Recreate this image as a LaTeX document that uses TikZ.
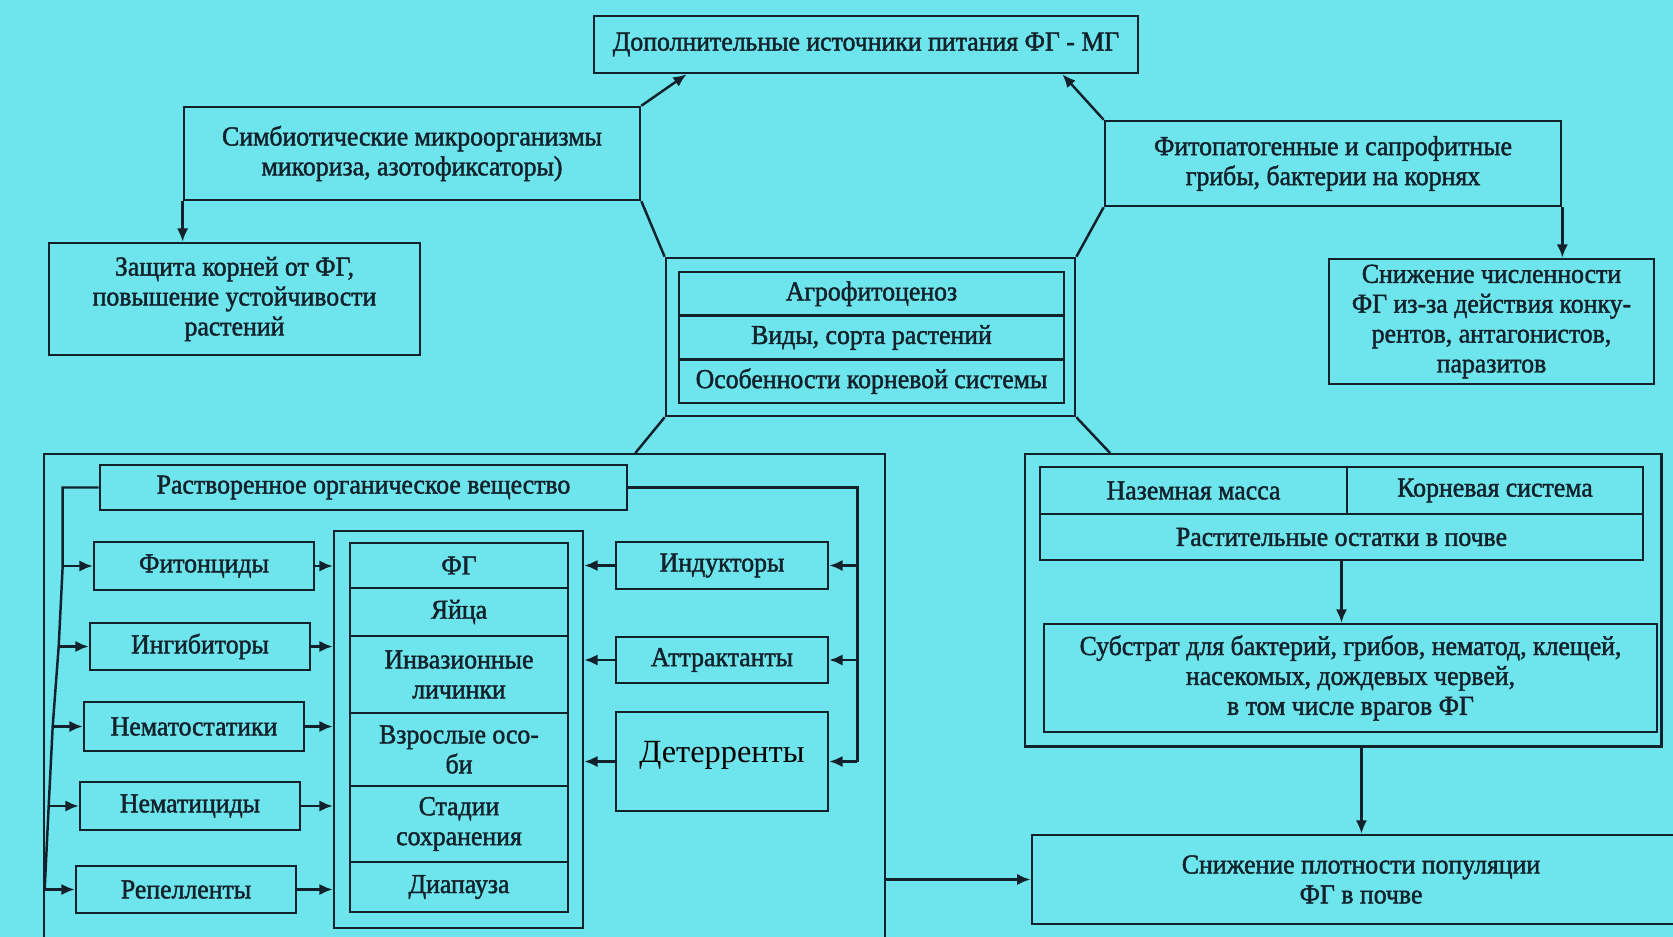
\documentclass[tikz,border=0pt]{standalone}
\usepackage{fontspec}
\setmainfont{Liberation Serif}[FakeStretch=0.94, FakeBold=1.6]
\newfontfamily\plainserif{Liberation Serif}
\usetikzlibrary{arrows.meta,calc}
\definecolor{bgcyan}{RGB}{110,229,236}
\definecolor{ink}{RGB}{18,34,44}
\tikzset{
	box/.style={draw=ink, line width=0.7pt, align=center, inner sep=1pt, text=ink,
		font=\fontsize{7.8}{8.5}\selectfont},
	link/.style={draw=ink, line width=0.7pt},
	arr/.style={link, -{Latex[length=3.8pt,width=3.2pt]}},
}
\begin{document}
\begin{tikzpicture}[x=0.01cm, y=-0.01cm]
		%%%%% START %%%%%
		\fill[bgcyan] (0,0) rectangle (1673,937);
		\useasboundingbox (0,0) rectangle (1673,937);
		
		\node[box, minimum width=5.44cm, minimum height=0.57cm] (top) at (866,44.5) {Дополнительные источники питания ФГ - МГ};
		\node[box, minimum width=4.56cm, minimum height=0.93cm] (symb) at (412,153.5) {Симбиотические микроорганизмы\\микориза, азотофиксаторы)};
		\node[box, minimum width=3.71cm, minimum height=1.12cm] (prot) at (234.5,299) {Защита корней от ФГ,\\повышение устойчивости\\растений};
		\node[box, minimum width=4.56cm, minimum height=0.85cm] (phyto) at (1333,163.5) {Фитопатогенные и сапрофитные\\грибы, бактерии на корнях};
		\node[box, minimum width=3.25cm, minimum height=1.25cm] (decr) at (1491.5,321.5) {Снижение численности\\ФГ из-за действия конку-\\рентов, антагонистов,\\паразитов};
		
		\node[box, minimum width=4.09cm, minimum height=1.58cm] (agro) at (870.5,337) {};
		\node[box, minimum width=3.85cm, minimum height=0.437cm] (agro1) at (871.5,293.8) {Агрофитоценоз};
		\node[box, minimum width=3.85cm, minimum height=0.437cm] (agro2) at (871.5,337.5) {Виды, сорта растений};
		\node[box, minimum width=3.85cm, minimum height=0.437cm] (agro3) at (871.5,381.2) {Особенности корневой системы};
		
		\node[box, minimum width=8.4cm, minimum height=5.0cm, anchor=north west] (lbig) at (43,453) {};
		\node[box, minimum width=6.36cm, minimum height=2.92cm, anchor=north west] (rbig) at (1024,453) {};
		
		\draw[arr] (symb.north east) -- ([xshift=0.94cm]top.south west);
		\draw[arr] (phyto.north west) -- ([xshift=-0.77cm]top.south east);
		\draw[link] (symb.south east) -- (agro.north west);
		\draw[link] (phyto.south west) -- (agro.north east);
		\draw[link] (agro.south west) -- ([xshift=5.92cm]lbig.north west);
		\draw[link] (agro.south east) -- ([xshift=0.86cm]rbig.north west);
		\draw[arr] (symb.south west) -- (symb.south west |- prot.north);
		\draw[arr] (phyto.south east) -- (phyto.south east |- decr.north);
		
		% left block
		\node[box, minimum width=5.27cm, minimum height=0.45cm] (rov) at (363.5,487.5) {Растворенное органическое вещество};
		
		\node[box, minimum width=2.2cm, minimum height=0.48cm] (fitonc) at (204,566) {Фитонциды};
		\node[box, minimum width=2.2cm, minimum height=0.47cm] (ingib) at (200,646.5) {Ингибиторы};
		\node[box, minimum width=2.2cm, minimum height=0.49cm] (nstat) at (194,726.5) {Нематостатики};
		\node[box, minimum width=2.2cm, minimum height=0.48cm] (ncid) at (190,806) {Нематициды};
		\node[box, minimum width=2.2cm, minimum height=0.47cm] (repel) at (186,889.5) {Репелленты};
		
		\node[box, minimum width=2.49cm, minimum height=3.97cm] (fgout) at (458.5,729.5) {};
		\node[box, minimum width=2.18cm, minimum height=0.45cm] (fg1) at (459,565.5) {ФГ};
		\node[box, minimum width=2.18cm, minimum height=0.48cm] (fg2) at (459,612) {Яйца};
		\node[box, minimum width=2.18cm, minimum height=0.77cm] (fg3) at (459,674.5) {Инвазионные\\личинки};
		\node[box, minimum width=2.18cm, minimum height=0.73cm] (fg4) at (459,749.5) {Взрослые осо-\\би};
		\node[box, minimum width=2.18cm, minimum height=0.76cm] (fg5) at (459,824) {Стадии\\сохранения};
		\node[box, minimum width=2.18cm, minimum height=0.50cm] (fg6) at (459,887) {Диапауза};
		
		\node[box, minimum width=2.12cm, minimum height=0.47cm] (induk) at (722,565.5) {Индукторы};
		\node[box, minimum width=2.12cm, minimum height=0.46cm] (attr) at (722,660) {Аттрактанты};
		\node[box, minimum width=2.12cm, minimum height=0.99cm, text depth=0.2cm, font=\plainserif\fontsize{9.2}{11}\selectfont, text=black] (deter) at (722,761.5) {Детерренты};
		
		\coordinate (b1) at ([xshift=-0.3cm]fitonc.west);
		\coordinate (b2) at ([xshift=-0.3cm]ingib.west);
		\coordinate (b3) at ([xshift=-0.3cm]nstat.west);
		\coordinate (b4) at ([xshift=-0.3cm]ncid.west);
		\coordinate (b5) at ([xshift=-0.3cm]repel.west);
		\draw[link] (rov.west) -| (b1) -- (b2) -- (b3) -- (b4) -- (b5);
		\draw[arr] (b1) -- (fitonc.west);
		\draw[arr] (b2) -- (ingib.west);
		\draw[arr] (b3) -- (nstat.west);
		\draw[arr] (b4) -- (ncid.west);
		\draw[arr] (b5) -- (repel.west);
		
		\draw[arr] (fitonc.east) -- (fitonc.east -| fgout.west);
		\draw[arr] (ingib.east) -- (ingib.east -| fgout.west);
		\draw[arr] (nstat.east) -- (nstat.east -| fgout.west);
		\draw[arr] (ncid.east) -- (ncid.east -| fgout.west);
		\draw[arr] (repel.east) -- (repel.east -| fgout.west);
		
		\coordinate (r1) at ([xshift=0.28cm]induk.east);
		\draw[link] (rov.east) -| (r1) -- (r1 |- deter.east);
		\draw[arr] (r1) -- (induk.east);
		\draw[arr] (r1 |- attr.east) -- (attr.east);
		\draw[arr] (r1 |- deter.east) -- (deter.east);
		
		\draw[arr] (induk.west) -- (induk.west -| fgout.east);
		\draw[arr] (attr.west) -- (attr.west -| fgout.east);
		\draw[arr] (deter.west) -- (deter.west -| fgout.east);
		
		% right block
		\node[box, minimum width=3.07cm, minimum height=0.47cm] (nazem) at (1193.5,490.5) {Наземная масса};
		\node[box, minimum width=2.96cm, minimum height=0.47cm] (korn) at (1495,490.5) {Корневая система};
		\node[box, minimum width=6.03cm, minimum height=0.46cm] (rast) at (1341.5,537) {Растительные остатки в почве};
		\node[box, minimum width=6.13cm, minimum height=1.08cm] (subst) at (1350.5,678) {Субстрат для бактерий, грибов, нематод, клещей,\\насекомых, дождевых червей,\\в том числе врагов ФГ};
		\node[box, minimum width=6.58cm, minimum height=0.89cm] (snizh) at (1361,879.5) {Снижение плотности популяции\\ФГ в почве};
		
		\draw[arr] (rast.south) -- (rast.south |- subst.north);
		\draw[arr] ([xshift=0.18cm]rbig.south) -- ([xshift=0.18cm]rbig.south |- snizh.north);
		\draw[arr] (lbig.east |- snizh.west) -- (snizh.west);
		%%%%% END %%%%%
\end{tikzpicture}
\end{document}
